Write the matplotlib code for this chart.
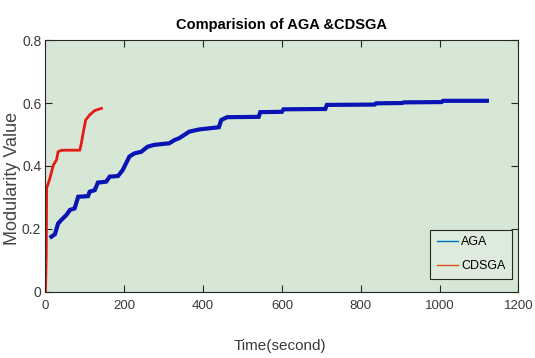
import matplotlib
matplotlib.use("Agg")
import matplotlib.pyplot as plt
from matplotlib.lines import Line2D

# AGA curve (time in s, modularity)
aga_t = [15, 24, 32, 40, 53, 62, 74, 83, 108, 112, 125, 133, 154, 163, 184, 196,
         213, 226, 243, 259, 276, 314, 327, 339, 365, 390, 440, 446, 461, 541, 545,
         600, 604, 710, 714, 835, 839, 905, 909, 1005, 1009, 1120]
aga_q = [0.175, 0.183, 0.217, 0.228, 0.244, 0.26, 0.265, 0.302, 0.304, 0.318, 0.323,
         0.347, 0.35, 0.366, 0.368, 0.387, 0.43, 0.44, 0.445, 0.461, 0.467, 0.472,
         0.482, 0.488, 0.509, 0.516, 0.523, 0.546, 0.555, 0.556, 0.571, 0.572, 0.58,
         0.581, 0.594, 0.595, 0.599, 0.600, 0.602, 0.603, 0.607, 0.607]

# CDSGA curve
cds_t = [0, 2, 3, 6, 11, 20, 28, 32, 41, 87, 91, 97, 102, 112, 125, 142]
cds_q = [0.0, 0.12, 0.33, 0.34, 0.36, 0.403, 0.419, 0.445, 0.45, 0.45, 0.472,
         0.514, 0.546, 0.562, 0.576, 0.583]

xticks = [0, 200, 400, 600, 800, 1000, 1200]
yticks = [0, 0.2, 0.4, 0.6, 0.8]

fam = ['Liberation Sans', 'DejaVu Sans']
txt = '#3a3a3a'

fig = plt.figure(figsize=(5.35, 3.58), dpi=100)
ax = fig.add_axes([0.085, 0.185, 0.884, 0.703])
ax.set_facecolor('#d6e8d5')

ax.plot(aga_t, aga_q, color='#0a14b4', linewidth=3.0, solid_joinstyle='miter')
ax.plot(cds_t, cds_q, color='#e41a14', linewidth=2.0)

ax.set_xlim(0, 1200)
ax.set_ylim(0, 0.8)
ax.set_xticks(xticks)
ax.set_yticks(yticks)
ax.set_xticklabels([str(v) for v in xticks], family=fam, fontsize=9.5, color=txt)
ax.set_yticklabels(['0', '0.2', '0.4', '0.6', '0.8'], family=fam, fontsize=10, color=txt)
ax.tick_params(direction='in', length=5, width=0.8, top=True, right=True,
               colors='#262626', labelcolor=txt, pad=3)
ax.tick_params(axis='x', pad=6)
for s in ax.spines.values():
    s.set_color('#262626')
    s.set_linewidth(0.8)

ax.set_title('Comparision of AGA &CDSGA', family=fam, fontsize=10.5,
             fontweight='bold', color='black', pad=8)
ax.set_xlabel('Time(second)', family=fam, fontsize=11, color=txt)
ax.xaxis.label.set_va('center')
ax.xaxis.set_label_coords(0.496, -0.215)
ax.set_ylabel('Modularity Value', family=fam, fontsize=13, color='#454545')
ax.yaxis.label.set_va('center')
ax.yaxis.set_label_coords(-0.07, 0.452)

handles = [Line2D([], [], color='#0072BD', linewidth=1.0),
           Line2D([], [], color='#D95319', linewidth=1.0)]
leg = ax.legend(handles, ['AGA', 'CDSGA'], loc='lower right', fancybox=False,
                framealpha=1, facecolor='#dcebdb', edgecolor='#262626',
                prop={'family': fam, 'size': 9}, handlelength=1.7,
                borderpad=0.55, labelspacing=0.95, handletextpad=0.25,
                borderaxespad=0, bbox_to_anchor=(0.987, 0.05))
leg.get_frame().set_linewidth(0.8)

fig.savefig('out.png', dpi=100)
